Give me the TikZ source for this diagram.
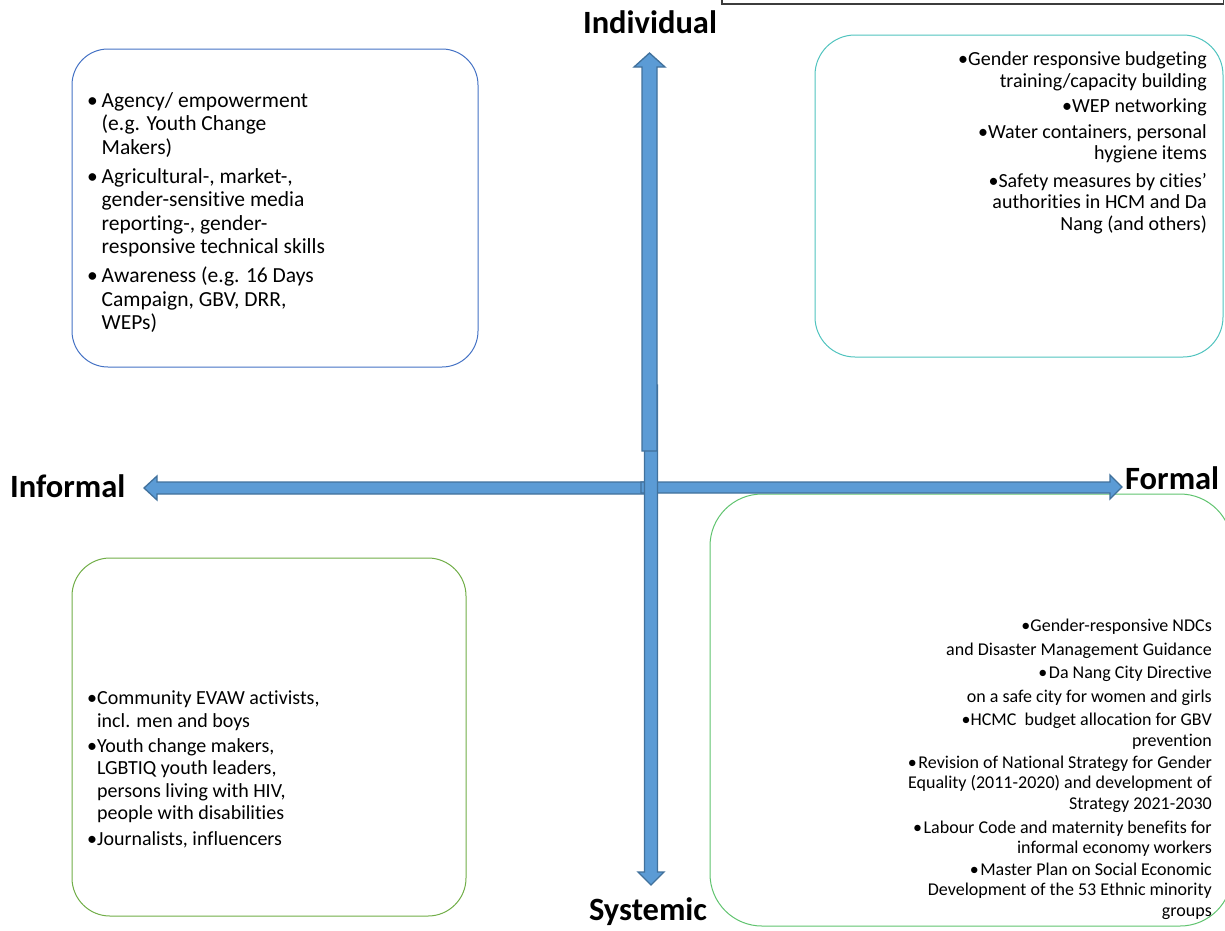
\documentclass[tikz,border=0pt]{standalone}
\usepackage{fontspec}
\setmainfont{Carlito}[Ligatures=NoCommon]
\definecolor{arrowfill}{HTML}{5B9BD5}
\definecolor{arrowline}{HTML}{41719C}
\definecolor{tlblue}{HTML}{4472C4}
\definecolor{trteal}{RGB}{80,195,190}
\definecolor{blgreen}{HTML}{70AD47}
\definecolor{brgreen}{RGB}{95,195,110}
\definecolor{framegrey}{RGB}{60,60,60}
\tikzset{
  qbox/.style={draw, line width=1pt, fill=none, inner sep=0pt},
  bigarrow/.style={fill=arrowfill, draw=arrowline, line width=1.3pt, line join=miter},
  axislabel/.style={font=\fontsize{32.5}{38}\selectfont\bfseries, inner sep=0pt},
  listtext/.style={inner sep=0pt, text=black}
}
\newcommand{\bul}{\makebox[14.5pt][l]{•}}
\newcommand{\ind}{\hspace*{14.5pt}}
\newcommand{\bl}{\phantom{•}}
\begin{document}
\begin{tikzpicture}[x=1pt,y=-1pt]
\useasboundingbox (0,0) rectangle (1225,930);
% top frame fragment
\draw[framegrey, line width=1.5pt] (722,-6) rectangle (1223.5,4);
% quadrant boxes
\node[qbox, draw=tlblue, minimum width=406pt, minimum height=318pt, rounded corners=36pt] (tlbox) at (275,208) {};
\node[qbox, draw=trteal, minimum width=408pt, minimum height=322pt, rounded corners=40pt] (trbox) at (1019,196) {};
\node[qbox, draw=blgreen, minimum width=394pt, minimum height=358pt, rounded corners=38pt] (blbox) at (269,737) {};
\node[qbox, draw=brgreen, minimum width=522pt, minimum height=432pt, rounded corners=52pt] (brbox) at (971,710) {};
% arrows
\coordinate (centre) at (650,488);
\fill[bigarrow] (645,482) -- (157,482) -- (157,476) -- (144,488) -- (157,500) -- (157,494) -- (645,494) -- cycle;
\fill[bigarrow] (641,482) -- (1110,482) -- (1110,475) -- (1122,487) -- (1110,499) -- (1110,493) -- (641,493) -- cycle;
\fill[bigarrow] (644.5,385) -- (644.5,872) -- (638,872) -- (651,885) -- (664,872) -- (657.5,872) -- (657.5,385) -- cycle;
\fill[bigarrow] (642,451) -- (642,67) -- (634,67) -- (649.5,53) -- (665,67) -- (657,67) -- (657,451) -- cycle;
% axis labels
\node[axislabel, anchor=base] (individual) at (650,33) {Individual};
\node[axislabel, anchor=base west] (informal) at (10,497) {Informal};
\node[axislabel, anchor=base west] (formal) at (1125,489) {Formal};
\node[axislabel, anchor=base] (systemic) at (648,920) {Systemic};
% texts
\node[listtext, anchor=north west, align=left, font=\fontsize{21.5}{23.5}\selectfont] (tltext) at (87,92) {%
\bul Agency/ empowerment\\ \ind(e.g. Youth Change\\ \ind Makers)\\[5.5pt]
\bul Agricultural-, market-,\\ \ind gender-sensitive media\\ \ind reporting-, gender-\\ \ind responsive technical skills\\[5.5pt]
\bul Awareness (e.g. 16 Days\\ \ind Campaign, GBV, DRR,\\ \ind WEPs)};
\node[listtext, anchor=north east, align=right, font=\fontsize{20}{21.7}\selectfont] (trtext) at (1207,51.5) {%
•Gender responsive budgeting\\ training/capacity building\\[4pt]
•WEP networking\\[3.5pt]
•Water containers, personal\\ hygiene items\hspace*{4pt}\\[5.5pt]
•Safety measures by cities’\\ authorities in HCM and Da\\ Nang (and others)};
\node[listtext, anchor=north east, align=right, font=\fontsize{18}{20.5}\selectfont] (brtext) at (1212,618.5) {%
•Gender-responsive NDCs\\[3.3pt] and Disaster Management Guidance\\[2.8pt]
•\kern1.5pt Da Nang City Directive\\[3.3pt] on a safe city for women and girls\\[3.3pt]
•HCMC\ \ budget allocation for GBV\\ prevention\\[1.3pt]
•\kern1.5pt Revision of National Strategy for Gender\\ Equality (2011-2020) and development of\\ Strategy 2021-2030\\[3.3pt]
•\kern1.5pt Labour Code and maternity benefits for\\ informal economy workers\\[1.3pt]
•\kern1.5pt Master Plan on Social Economic\\ Development of the 53 Ethnic minority\\ groups};
\node[listtext, anchor=north west, align=left, font=\fontsize{20}{22.3}\selectfont] (bltext) at (87,691) {%
•Community EVAW activists,\\ \bl incl. men and boys\\[3pt]
•Youth change makers,\\ \bl LGBTIQ youth leaders,\\ \bl persons living with HIV,\\ \bl people with disabilities\\[4pt]
•Journalists, influencers};
\end{tikzpicture}
\end{document}
